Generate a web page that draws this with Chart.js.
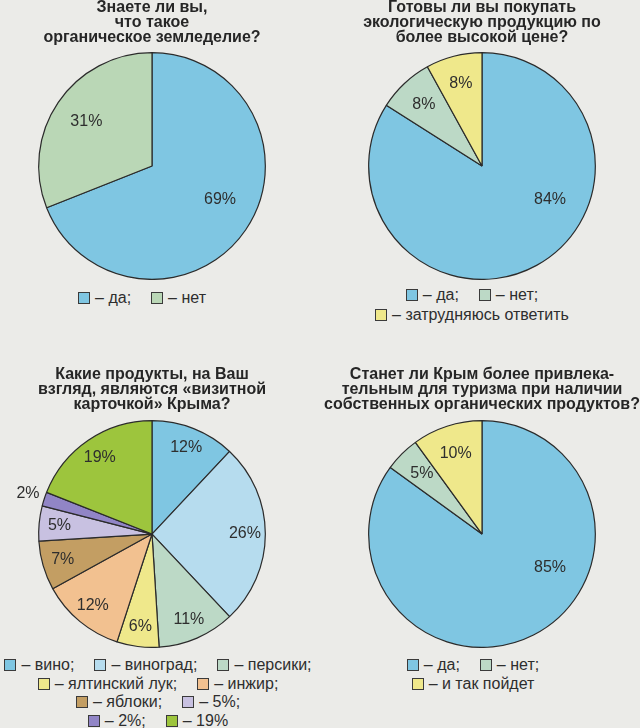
<!DOCTYPE html>
<html>
<head>
<meta charset="utf-8">
<script src="https://cdn.jsdelivr.net/npm/chart.js@4"></script>
<style>
  html, body { margin: 0; padding: 0; }
  body {
    width: 640px; height: 728px; position: relative; overflow: hidden;
    background: #ebebe8;
    font-family: "Liberation Sans", Arial, sans-serif; color: #2e2e2e;
  }
  canvas { position: absolute; }
  .legend { position: absolute; width: 400px; text-align: center; font-size: 16px; white-space: nowrap; }
  .item { display: inline-block; margin: 0 10px; }
  .sw { display: inline-block; width: 10px; height: 10px; border: 1px solid #3a3a3a; margin-right: 5px; vertical-align: -1px; }
</style>
</head>
<body>
<canvas id="pie1" width="340" height="280" style="left:-18px;top:0"></canvas>
<canvas id="pie2" width="340" height="280" style="left:312px;top:0"></canvas>
<canvas id="pie3" width="340" height="288" style="left:-18px;top:360px"></canvas>
<canvas id="pie4" width="340" height="288" style="left:312px;top:360px"></canvas>
<div class="legend" id="leg1" style="left:-58px;top:288px;line-height:20px"></div>
<div class="legend" id="leg2" style="left:272px;top:285px;line-height:20px"></div>
<div class="legend" id="leg3" style="left:-42px;top:656px;line-height:18.5px"></div>
<div class="legend" id="leg4" style="left:273px;top:655px;line-height:19px"></div>
<script>
// chart 1
const title1 = ['Знаете ли вы,', 'что такое', 'органическое земледелие?'];
const labels1 = ['да', 'нет'];
const values1 = [69, 31];
const colors1 = ['#7fc6e2', '#bad7b6'];

// chart 2
const title2 = ['Готовы ли вы покупать', 'экологическую продукцию по', 'более высокой цене?'];
const labels2 = ['да', 'нет', 'затрудняюсь ответить'];
const values2 = [84, 8, 8];
const colors2 = ['#7fc6e2', '#bcd9c6', '#efe88b'];

// chart 3
const title3 = ['Какие продукты, на Ваш', 'взгляд, являются «визитной', 'карточкой» Крыма?'];
const labels3 = ['вино', 'виноград', 'персики', 'ялтинский лук', 'инжир', 'яблоки', '5%', '2%', '19%'];
const values3 = [12, 26, 11, 6, 12, 7, 5, 2, 19];
const colors3 = ['#7fc6e2', '#b6dcee', '#bcd9c6', '#efe88b', '#f2c190', '#c39e63', '#c8c1e1', '#9185c6', '#9dc53d'];

// chart 4
const title4 = ['Станет ли Крым более привлека-', 'тельным для туризма при наличии', 'собственных органических продуктов?'];
const labels4 = ['да', 'нет', 'и так пойдет'];
const values4 = [85, 5, 10];
const colors4 = ['#7fc6e2', '#bcd9c6', '#efe88b'];

const FONT = '"Liberation Sans", Arial, sans-serif';

// percent labels inside the slices
const pctLabels = {
    id: 'pctLabels',
    afterDatasetsDraw(chart, args, opts) {
        const ctx = chart.ctx;
        const values = chart.data.datasets[0].data;
        ctx.save();
        ctx.font = '16px ' + FONT;
        ctx.fillStyle = '#2e2e2e';
        ctx.textAlign = 'center';
        ctx.textBaseline = 'middle';
        chart.getDatasetMeta(0).data.forEach((arc, i) => {
            const p = arc.getProps(['x', 'y', 'startAngle', 'endAngle', 'outerRadius'], true);
            let mid = (p.startAngle + p.endAngle) / 2;
            let k = opts.radius;
            if (values[i] > 50) {
                mid = Math.min(mid, 0.46);
                k = 0.67;
            } else if (values[i] < 3) {
                k = 1.15;
            }
            const r = p.outerRadius * k;
            ctx.fillText(values[i] + '%', p.x + Math.cos(mid) * r, p.y + Math.sin(mid) * r);
        });
        ctx.restore();
    }
};

function drawPie(id, title, labels, values, colors, topPad, titleGap, labelRadius) {
    new Chart(document.getElementById(id), {
        type: 'pie',
        data: {
            labels: labels,
            datasets: [{
                data: values,
                backgroundColor: colors,
                borderColor: '#2b2b2b',
                borderWidth: 1.2
            }]
        },
        options: {
            responsive: false,
            animation: false,
            events: [],
            layout: { padding: { top: topPad, left: 0, right: 0, bottom: 0 } },
            plugins: {
                legend: { display: false },
                tooltip: { enabled: false },
                title: {
                    display: true,
                    text: title,
                    color: '#262626',
                    font: { family: FONT, size: 16, weight: 'bold', lineHeight: 0.94 },
                    padding: { top: 0, bottom: titleGap }
                },
                pctLabels: { radius: labelRadius }
            }
        },
        plugins: [pctLabels]
    });
}

function buildLegend(id, labels, colors, rows) {
    const el = document.getElementById(id);
    rows.forEach(row => {
        const line = document.createElement('div');
        row.forEach(i => {
            const item = document.createElement('span');
            item.className = 'item';
            const sw = document.createElement('span');
            sw.className = 'sw';
            sw.style.background = colors[i];
            item.appendChild(sw);
            item.appendChild(document.createTextNode('– ' + labels[i] + (i < labels.length - 1 ? ';' : '')));
            line.appendChild(item);
        });
        el.appendChild(line);
    });
}

drawPie('pie1', title1, labels1, values1, colors1, 0, 7, 0.7);
drawPie('pie2', title2, labels2, values2, colors2, 0, 7, 0.75);
drawPie('pie3', title3, labels3, values3, colors3, 7, 8, 0.82);
drawPie('pie4', title4, labels4, values4, colors4, 7, 8, 0.75);

buildLegend('leg1', labels1, colors1, [[0, 1]]);
buildLegend('leg2', labels2, colors2, [[0, 1], [2]]);
buildLegend('leg3', labels3, colors3, [[0, 1, 2], [3, 4], [5, 6], [7, 8]]);
buildLegend('leg4', labels4, colors4, [[0, 1], [2]]);
</script>
</body>
</html>
